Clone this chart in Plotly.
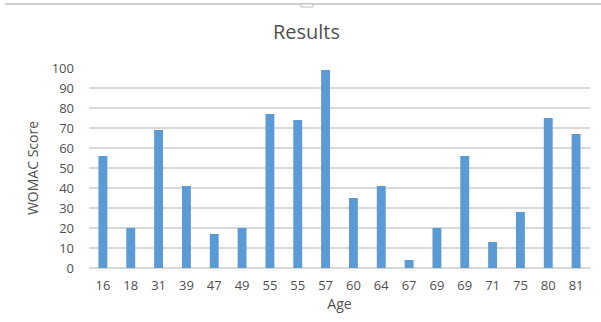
import plotly.graph_objects as go

# WOMAC scores by patient age
ages = ["16", "18", "31", "39", "47", "49", "55", "55", "57", "60",
        "64", "67", "69", "69", "71", "75", "80", "81"]
scores = [56, 20, 69, 41, 17, 20, 77, 74, 99, 35,
          41, 4, 20, 56, 13, 28, 75, 67]
y_ticks = list(range(0, 101, 10))

positions = list(range(len(ages)))

font_family = "Open Sans, Liberation Sans, sans-serif"
text_color = "#505050"

fig = go.Figure(
    go.Bar(
        x=positions,
        y=scores,
        marker=dict(color="#5b9bd5", line=dict(width=0)),
        width=0.32,
    )
)

fig.update_layout(
    width=601,
    height=322,
    margin=dict(l=89, r=11, t=68, b=54),
    paper_bgcolor="white",
    plot_bgcolor="white",
    showlegend=False,
    font=dict(family=font_family, size=13, color=text_color),
    title=dict(
        text="Results",
        x=0.51,
        xanchor="center",
        y=0.9,
        yanchor="middle",
        font=dict(size=20, color=text_color, family=font_family),
    ),
    shapes=[
        # chart frame edge along the top, with its small centre handle
        dict(type="line", xref="paper", yref="paper",
             x0=-0.168, x1=1.03, y0=1.32, y1=1.32,
             line=dict(color="#bfbfbf", width=1.5)),
        dict(type="rect", xref="paper", yref="paper",
             x0=0.423, x1=0.447, y0=1.305, y1=1.32,
             fillcolor="white", line=dict(color="#bfbfbf", width=1)),
    ],
)

fig.update_xaxes(
    range=[-0.5, len(ages) - 0.5],
    tickmode="array",
    tickvals=positions,
    ticktext=ages,
    showgrid=False,
    zeroline=False,
    showline=False,
    ticks="",
    ticklabelstandoff=8,
    tickfont=dict(size=13, color=text_color),
    title=dict(text="Age", standoff=6, font=dict(size=14, color=text_color)),
)

fig.update_yaxes(
    range=[0, 100],
    tickmode="array",
    tickvals=y_ticks,
    showgrid=True,
    gridcolor="#d9d9d9",
    gridwidth=1.5,
    zeroline=True,
    zerolinecolor="#d9d9d9",
    zerolinewidth=1.5,
    showline=False,
    ticks="",
    ticklabelstandoff=14,
    tickfont=dict(size=13, color=text_color),
    title=dict(text="WOMAC Score", standoff=9, font=dict(size=14, color=text_color)),
)

fig.write_html("out.html")
